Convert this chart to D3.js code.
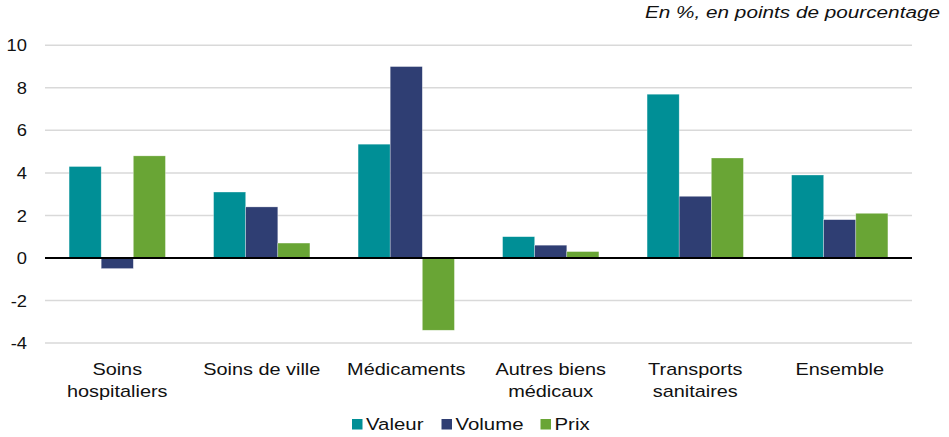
<!DOCTYPE html>
<html>
<head>
<meta charset="utf-8">
<script src="https://cdn.jsdelivr.net/npm/d3@7"></script>
<style>
body { margin: 0; background: #fff; }
svg text { font-family: "Liberation Sans", Arial, sans-serif; fill: #111; font-size: 17px; }
</style>
</head>
<body>
<div id="chart"></div>
<script>
var categories = [["Soins", "hospitaliers"], ["Soins de ville"], ["Médicaments"], ["Autres biens", "médicaux"], ["Transports", "sanitaires"], ["Ensemble"]]
var series = ["Valeur", "Volume", "Prix"]
var valeur = [4.3, 3.1, 5.35, 1.0, 7.7, 3.9]
var volume = [-0.5, 2.4, 9.0, 0.6, 2.9, 1.8]
var prix = [4.8, 0.7, -3.4, 0.3, 4.7, 2.1]
var yTicks = [-4, -2, 0, 2, 4, 6, 8, 10]
var colors = ["#008f96", "#2f3e73", "#69a535"]

var W = 949, H = 437
var mLeft = 45, mRight = 912, mTop = 45.3, mBottom = 343
var stretch = 1.17 // text in the reference is a bit wider than tall

var svg = d3.select("#chart").append("svg").attr("width", W).attr("height", H)

function label(g, px, py, anchor, sx){
	return g.append("g").attr("transform", "translate(" + px + "," + py + ") scale(" + (sx || stretch) + ",1)")
		.append("text").attr("text-anchor", anchor || "start")
}

var cats = categories.map(function(d){ return d.join(" ") })
var x = d3.scaleBand().domain(cats).range([mLeft, mRight]).paddingInner(0.3333).paddingOuter(0.1667)
var xs = d3.scaleBand().domain(series).range([0, x.bandwidth()])
var y = d3.scaleLinear().domain([-4, 10]).range([mBottom, mTop])

// grid
svg.append("g").selectAll("line")
	.data(yTicks.filter(function(d){ return d != 0 }))
	.enter().append("line")
	.attr("x1", mLeft).attr("x2", mRight)
	.attr("y1", function(d){ return y(d) }).attr("y2", function(d){ return y(d) })
	.attr("stroke", "#d9d9d9").attr("stroke-width", 1.5)

// y labels
yTicks.forEach(function(d){
	label(svg, 27, y(d), "end", 1.08).attr("dy", "0.36em").text(d)
})

// bars
var data = [valeur, volume, prix]
data.forEach(function(vals, s){
	svg.append("g").selectAll("rect")
		.data(vals)
		.enter().append("rect")
		.attr("x", function(d, i){ return x(cats[i]) + xs(series[s]) })
		.attr("width", xs.bandwidth())
		.attr("y", function(d){ return y(Math.max(0, d)) })
		.attr("height", function(d){ return Math.abs(y(d) - y(0)) })
		.attr("fill", colors[s])
		.attr("stroke", "#fff").attr("stroke-opacity", 0.5).attr("stroke-width", 0.6)
})

// zero line
svg.append("line")
	.attr("x1", mLeft).attr("x2", mRight)
	.attr("y1", y(0)).attr("y2", y(0))
	.attr("stroke", "#000").attr("stroke-width", 2)

// category labels
categories.forEach(function(lines, i){
	var t = label(svg, x(cats[i]) + x.bandwidth() / 2, 375, "middle")
	lines.forEach(function(l, j){
		t.append("tspan").attr("x", 0).attr("dy", j ? 22 : 0).text(l)
	})
})

// legend
var legX = [352, 441.5, 540.5]
series.forEach(function(s, i){
	svg.append("rect").attr("x", legX[i]).attr("y", 419).attr("width", 10.5).attr("height", 10.5).attr("fill", colors[i])
	label(svg, legX[i] + 14, 430, "start", 1.2).text(s)
})

// unit note
label(svg, 940, 18, "end", 1.22).style("font-style", "italic").text("En %, en points de pourcentage")
</script>
</body>
</html>
